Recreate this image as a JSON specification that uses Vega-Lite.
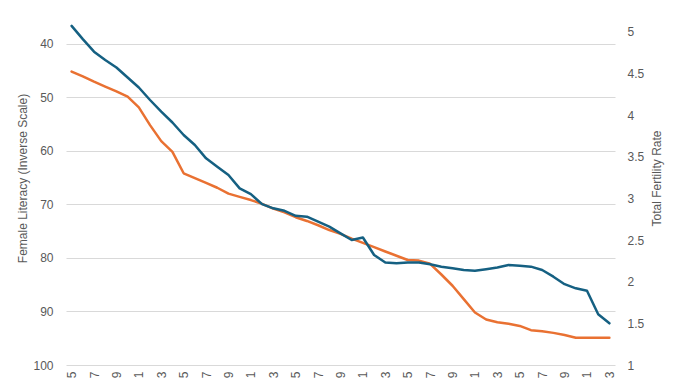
{
  "$schema": "https://vega.github.io/schema/vega-lite/v6.json",
  "width": 549,
  "height": 365,
  "autosize": {"type": "none"},
  "padding": {"left": 66, "top": 0, "right": 63, "bottom": 16},
  "background": "white",
  "config": {
    "view": {"stroke": null},
    "font": "Liberation Sans",
    "axis": {"labelFont": "Liberation Sans", "titleFont": "Liberation Sans", "labelColor": "#595959", "titleColor": "#595959", "labelFontSize": 12, "titleFontSize": 12, "titleFontWeight": "normal"}
  },
  "data": {"values": [
    {"year": 1975, "literacy": 45.2, "tfr": 5.07},
    {"year": 1976, "literacy": 46.1, "tfr": 4.91},
    {"year": 1977, "literacy": 47.1, "tfr": 4.76},
    {"year": 1978, "literacy": 48.0, "tfr": 4.66},
    {"year": 1979, "literacy": 48.9, "tfr": 4.57},
    {"year": 1980, "literacy": 49.9, "tfr": 4.45},
    {"year": 1981, "literacy": 51.9, "tfr": 4.33},
    {"year": 1982, "literacy": 55.2, "tfr": 4.18},
    {"year": 1983, "literacy": 58.2, "tfr": 4.04},
    {"year": 1984, "literacy": 60.2, "tfr": 3.91},
    {"year": 1985, "literacy": 64.2, "tfr": 3.76},
    {"year": 1986, "literacy": 65.1, "tfr": 3.64},
    {"year": 1987, "literacy": 66.0, "tfr": 3.48},
    {"year": 1988, "literacy": 66.9, "tfr": 3.38},
    {"year": 1989, "literacy": 68.0, "tfr": 3.28},
    {"year": 1990, "literacy": 68.6, "tfr": 3.12},
    {"year": 1991, "literacy": 69.2, "tfr": 3.05},
    {"year": 1992, "literacy": 69.9, "tfr": 2.93},
    {"year": 1993, "literacy": 70.8, "tfr": 2.88},
    {"year": 1994, "literacy": 71.5, "tfr": 2.85},
    {"year": 1995, "literacy": 72.4, "tfr": 2.79},
    {"year": 1996, "literacy": 73.1, "tfr": 2.78},
    {"year": 1997, "literacy": 73.9, "tfr": 2.72},
    {"year": 1998, "literacy": 74.8, "tfr": 2.66},
    {"year": 1999, "literacy": 75.5, "tfr": 2.58},
    {"year": 2000, "literacy": 76.4, "tfr": 2.50},
    {"year": 2001, "literacy": 77.2, "tfr": 2.53},
    {"year": 2002, "literacy": 78.0, "tfr": 2.32},
    {"year": 2003, "literacy": 78.8, "tfr": 2.23},
    {"year": 2004, "literacy": 79.6, "tfr": 2.22},
    {"year": 2005, "literacy": 80.4, "tfr": 2.23},
    {"year": 2006, "literacy": 80.5, "tfr": 2.23},
    {"year": 2007, "literacy": 81.1, "tfr": 2.21},
    {"year": 2008, "literacy": 83.1, "tfr": 2.18},
    {"year": 2009, "literacy": 85.2, "tfr": 2.16},
    {"year": 2010, "literacy": 87.7, "tfr": 2.14},
    {"year": 2011, "literacy": 90.2, "tfr": 2.13},
    {"year": 2012, "literacy": 91.5, "tfr": 2.15},
    {"year": 2013, "literacy": 92.0, "tfr": 2.17},
    {"year": 2014, "literacy": 92.3, "tfr": 2.20},
    {"year": 2015, "literacy": 92.7, "tfr": 2.19},
    {"year": 2016, "literacy": 93.5, "tfr": 2.18},
    {"year": 2017, "literacy": 93.7, "tfr": 2.14},
    {"year": 2018, "literacy": 94.0, "tfr": 2.06},
    {"year": 2019, "literacy": 94.4, "tfr": 1.97},
    {"year": 2020, "literacy": 94.9, "tfr": 1.92},
    {"year": 2021, "literacy": 94.9, "tfr": 1.89},
    {"year": 2022, "literacy": 94.9, "tfr": 1.61},
    {"year": 2023, "literacy": 94.9, "tfr": 1.50}
  ]},
  "encoding": {
    "x": {
      "field": "year",
      "type": "quantitative",
      "scale": {"domain": [1974.5, 2023.5], "nice": false, "zero": false},
      "axis": {
        "values": [1975, 1977, 1979, 1981, 1983, 1985, 1987, 1989, 1991, 1993, 1995, 1997, 1999, 2001, 2003, 2005, 2007, 2009, 2011, 2013, 2015, 2017, 2019, 2021, 2023],
        "format": "d",
        "labelExpr": "slice(datum.label, -1)",
        "labelAngle": 270,
        "labelPadding": 6,
        "labelFlush": false,
        "labelOverlap": false,
        "grid": false,
        "domain": false,
        "ticks": false,
        "title": null
      }
    }
  },
  "layer": [
    {
      "mark": {"type": "line", "color": "#E97132", "strokeWidth": 2.5, "strokeJoin": "round", "strokeCap": "round", "clip": true},
      "encoding": {
        "y": {
          "field": "literacy",
          "type": "quantitative",
          "scale": {"domain": [31.84, 100], "reverse": true, "nice": false, "zero": false},
          "axis": {
            "values": [40, 50, 60, 70, 80, 90, 100],
            "format": "d",
            "grid": true,
            "gridColor": "#d9d9d9",
            "gridWidth": 1,
            "domain": false,
            "ticks": false,
            "labelPadding": 13,
            "title": "Female Literacy (Inverse Scale)",
            "titleX": -44,
            "titleY": 178,
            "titleAngle": 270,
            "titleAlign": "center",
            "titleBaseline": "middle"
          }
        }
      }
    },
    {
      "mark": {"type": "line", "color": "#156082", "strokeWidth": 2.5, "strokeJoin": "round", "strokeCap": "round", "clip": true},
      "encoding": {
        "y": {
          "field": "tfr",
          "type": "quantitative",
          "scale": {"domain": [1, 5.38], "nice": false, "zero": false},
          "axis": {
            "orient": "right",
            "values": [1, 1.5, 2, 2.5, 3, 3.5, 4, 4.5, 5],
            "format": ".2~f",
            "grid": false,
            "domain": false,
            "ticks": false,
            "labelPadding": 12,
            "title": "Total Fertility Rate",
            "titleX": 41,
            "titleY": 178,
            "titleAngle": 270,
            "titleAlign": "center",
            "titleBaseline": "middle"
          }
        }
      }
    }
  ],
  "resolve": {"scale": {"y": "independent"}}
}
